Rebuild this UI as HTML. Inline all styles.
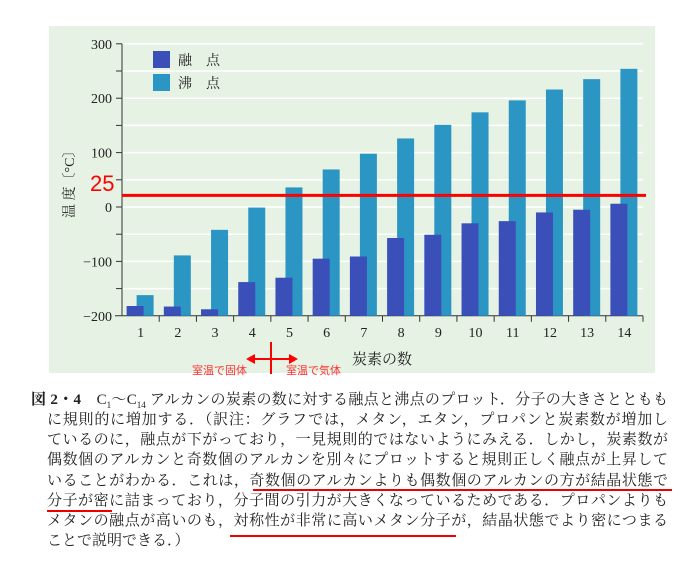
<!DOCTYPE html>
<html><head><meta charset="utf-8">
<style>
body{margin:0;background:#fff;width:682px;height:572px;overflow:hidden;font-family:"Liberation Serif","Noto Serif CJK SC","Noto Sans CJK JP",serif;}
svg{position:absolute;left:0;top:0}
.cap{position:absolute;font-size:15px;color:#222;white-space:nowrap;text-align:justify;text-align-last:justify;height:20px;line-height:20px}
.ul{position:absolute;height:2px;background:#e00}
</style></head><body>
<svg id="chart" width="682" height="380"></svg>
<div class="cap" style="left:31px;top:390px;width:637px"><b>図 2・4</b>　C<sub style="font-size:9px">1</sub>～C<sub style="font-size:9px">14</sub> アルカンの炭素の数に対する融点と沸点のプロット．分子の大きさとともも</div>
<div class="cap" style="left:47px;top:410px;width:621px">に規則的に増加する．（訳注：グラフでは，メタン，エタン，プロパンと炭素数が増加し</div>
<div class="cap" style="left:47px;top:430px;width:621px">ているのに，融点が下がっており，一見規則的ではないようにみえる．しかし，炭素数が</div>
<div class="cap" style="left:47px;top:450px;width:621px">偶数個のアルカンと奇数個のアルカンを別々にプロットすると規則正しく融点が上昇して</div>
<div class="cap" style="left:47px;top:471px;width:621px">いることがわかる．これは，奇数個のアルカンよりも偶数個のアルカンの方が結晶状態で</div>
<div class="cap" style="left:47px;top:491px;width:621px">分子が密に詰まっており，分子間の引力が大きくなっているためである．プロパンよりも</div>
<div class="cap" style="left:47px;top:511px;width:621px">メタンの融点が高いのも，対称性が非常に高いメタン分子が，結晶状態でより密につまる</div>
<div class="cap" style="left:47px;top:531px;text-align:left;text-align-last:left">ことで説明できる．）</div>
<div class="ul" style="left:253px;top:489px;width:419px"></div>
<div class="ul" style="left:47px;top:510px;width:65px"></div>
<div class="ul" style="left:230px;top:535px;width:226px"></div>
<script>
const categories=["1","2","3","4","5","6","7","8","9","10","11","12","13","14"];
const meltingPoints=[-182,-183,-188,-138,-130,-95,-91,-57,-51,-30,-26,-10,-5,6];
const boilingPoints=[-162,-89,-42,-1,36,69,98,126,151,174,196,216,235,254];
const yTicks=[300,200,100,0,-100,-200];
const refLine=25;
const svg=document.getElementById('chart');
const NS='http://www.w3.org/2000/svg';
function mk(t,a,txt){const e=document.createElementNS(NS,t);for(const k in a)e.setAttribute(k,a[k]);if(txt!==undefined)e.textContent=txt;svg.appendChild(e);return e;}
const y0=207,ppu=0.544;
function yS(v){return y0-v*ppu;}
const xL=122,xR=643,step=(xR-xL)/categories.length;
function xC(i){return xL+step*(i+0.5);}
let e=mk('rect',{x:49,y:26,width:606,height:347,fill:'#e6f2e4'});

for(let v=-150;v<=300;v+=50){e=mk('line',{x1:xL,x2:xR,y1:yS(v),y2:yS(v),stroke:'#fff','stroke-width':1.5});
}
e=mk('line',{x1:xL,x2:xL,y1:yS(300),y2:yS(-200),stroke:'#333'});
e=mk('line',{x1:115,x2:xR,y1:yS(-200),y2:yS(-200),stroke:'#333'});
for(let v=-150;v<=300;v+=50){e=mk('line',{x1:xL-6,x2:xL,y1:yS(v),y2:yS(v),stroke:'#333'});}
yTicks.forEach(v=>{e=mk('text',{x:xL-10,y:yS(v)+5,'text-anchor':'end','font-size':14,fill:'#222'},v===0?'0':(v<0?'−'+(-v):String(v)));
});
categories.forEach((c,i)=>{
 const cx=xC(i);
 e=mk('rect',{x:cx-4,y:yS(boilingPoints[i]),width:17,height:yS(-200)-yS(boilingPoints[i]),fill:'#2b96c4'});
 
 e=mk('rect',{x:cx-14,y:yS(meltingPoints[i]),width:17,height:yS(-200)-yS(meltingPoints[i]),fill:'#3b4fb8'});
 
 e=mk('line',{x1:xL+step*(i+1),x2:xL+step*(i+1),y1:yS(-200),y2:yS(-200)+6,stroke:'#333'});
 e=mk('text',{x:cx,y:yS(-200)+21,'text-anchor':'middle','font-size':14,fill:'#222'},c);
 
});
e=mk('line',{x1:xL,x2:646,y1:yS(refLine)+2,y2:yS(refLine)+2,stroke:'#f00','stroke-width':3});
e=mk('text',{x:90,y:191,'font-size':22,fill:'#f00','font-family':'Liberation Sans,sans-serif'},'25');
e=mk('rect',{x:153,y:51,width:17,height:17,fill:'#3b4fb8'});
e=mk('text',{x:178,y:65,'font-size':14,fill:'#222'},'融　点');
e=mk('rect',{x:153,y:74,width:17,height:17,fill:'#2b96c4'});
e=mk('text',{x:178,y:88,'font-size':14,fill:'#222'},'沸　点');
e=mk('text',{x:0,y:0,'font-size':14,fill:'#222',transform:'translate(74,218) rotate(-90)'},'温 度〔°C〕');
e=mk('text',{x:352,y:364,'font-size':15,fill:'#222'},'炭素の数');
e=mk('line',{x1:271,x2:271,y1:342,y2:374,stroke:'#f00','stroke-width':2});
e=mk('line',{x1:252,x2:292,y1:359,y2:359,stroke:'#f00','stroke-width':2});
e=mk('polygon',{points:'246,359 255,354 255,364',fill:'#f00'});
e=mk('polygon',{points:'298,359 289,354 289,364',fill:'#f00'});
e=mk('text',{x:192,y:374,'font-size':11,fill:'#f33','font-family':'Liberation Sans,Noto Sans CJK JP,sans-serif'},'室温で固体');
e=mk('text',{x:286,y:374,'font-size':11,fill:'#f33','font-family':'Liberation Sans,Noto Sans CJK JP,sans-serif'},'室温で気体');
</script>
</body></html>
